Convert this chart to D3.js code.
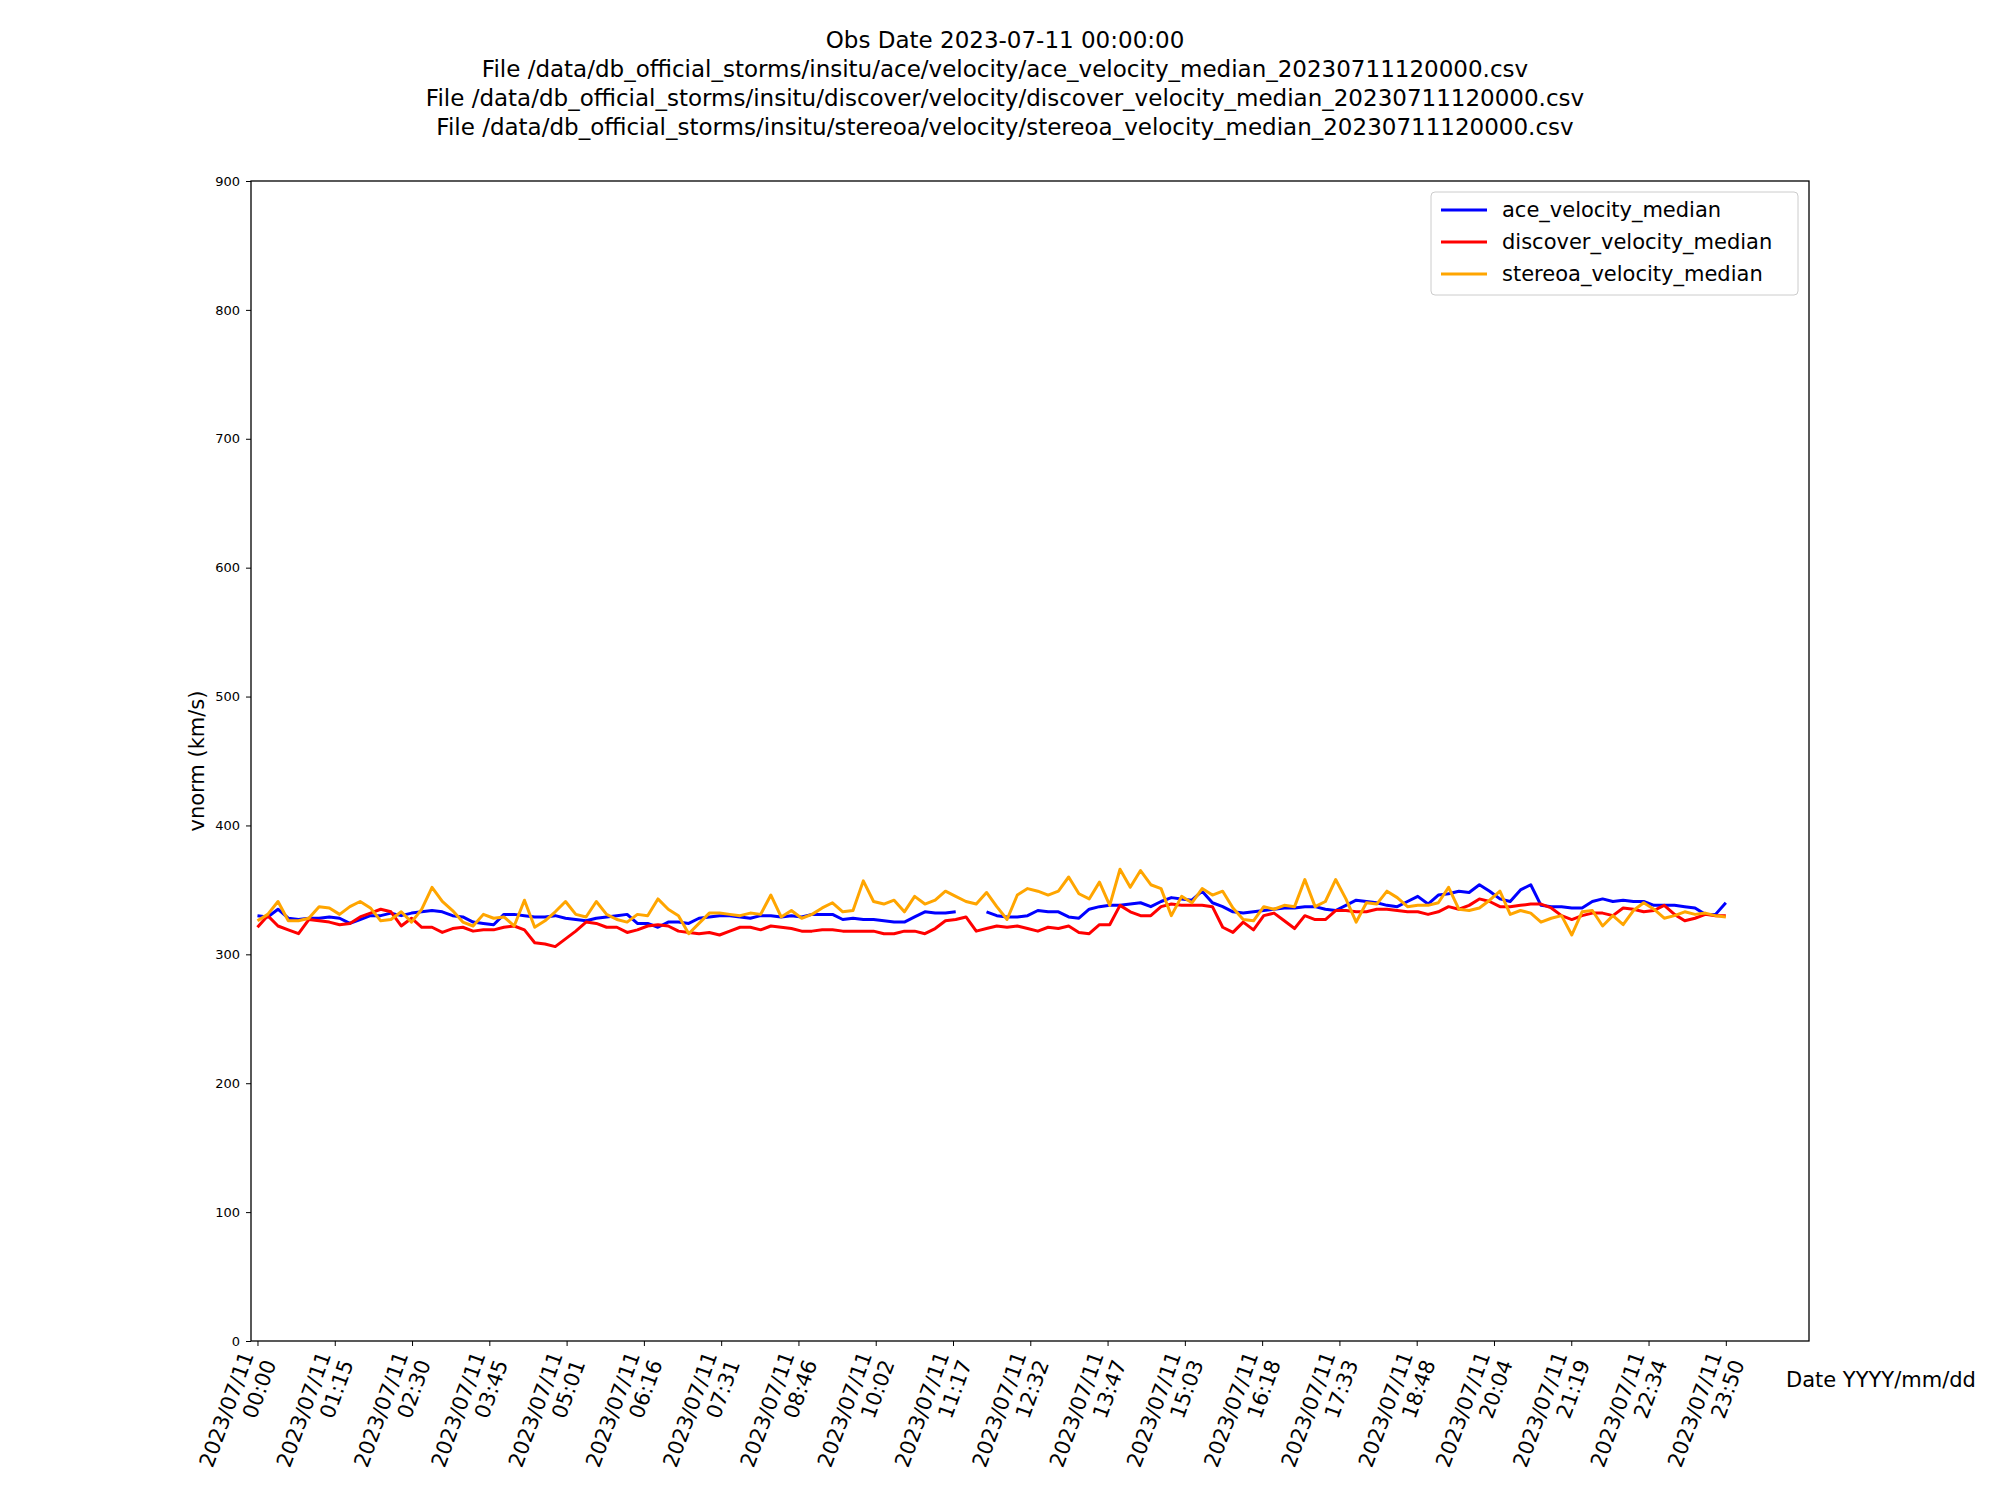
<!DOCTYPE html>
<html><head><meta charset="utf-8">
<script src="https://cdn.jsdelivr.net/npm/d3@7"></script>
<style>body{margin:0;background:#fff}text{font-family:"DejaVu Sans",sans-serif}</style>
</head><body><svg id="c" width="2000" height="1500"></svg>
<script>
// 10-minute samples, 12 per row (2 hours per row)
var aceVelocity = [
  330,329,335,328,327,328,328,329,328,324,327,330,
  330,332,330,332,333,334,333,330,329,325,324,323,
  331,331,330,329,329,330,328,327,326,328,329,330,
  331,324,324,321,325,325,324,328,329,330,330,329,
  328,330,330,329,330,329,331,331,331,327,328,327,
  327,326,325,325,329,333,332,332,333,null,null,333,
  330,329,329,330,334,333,333,329,328,335,337,338,
  338,339,340,337,341,344,343,342,349,340,337,333,
  332,333,334,335,336,336,337,337,335,334,338,342,
  341,340,338,337,341,345,339,346,347,349,348,354,
  349,343,341,350,354,338,337,337,336,336,341,343,
  341,342,341,341,338,338,338,337,336,331,331,340];
var discoverVelocity = [
  321,330,322,319,316,327,326,325,323,324,329,332,
  335,333,322,328,321,321,317,320,321,318,319,319,
  321,322,319,309,308,306,312,318,325,324,321,321,
  317,319,322,323,322,318,317,316,317,315,318,321,
  321,319,322,321,320,318,318,319,319,318,318,318,
  318,316,316,318,318,316,320,326,327,329,318,320,
  322,321,322,320,318,321,320,322,317,316,323,323,
  338,333,330,330,337,339,338,338,338,337,321,317,
  325,319,330,332,326,320,330,327,327,334,334,333,
  333,335,335,334,333,333,331,333,337,335,338,343,
  341,337,337,338,339,339,336,330,327,330,332,332,
  330,336,335,333,334,338,331,326,328,331,330,330];
var stereoaVelocity = [
  326,331,341,326,326,328,337,336,331,337,341,336,
  326,327,333,325,335,352,341,334,325,322,331,328,
  329,322,342,321,326,333,341,331,329,341,331,327,
  325,331,330,343,335,330,316,324,332,332,331,330,
  332,331,346,329,334,328,331,336,340,333,334,357,
  341,339,342,333,345,339,342,349,345,341,339,348,
  337,327,346,351,349,346,349,360,347,343,356,338,
  366,352,365,354,351,330,345,340,351,346,349,336,
  327,326,337,335,338,337,358,337,341,358,343,325,
  340,339,349,344,337,338,338,340,352,335,334,336,
  342,349,331,334,332,325,328,330,315,333,334,322,
  330,323,334,340,335,328,330,333,331,332,330,329];
var seriesNames = ["ace_velocity_median","discover_velocity_median","stereoa_velocity_median"];
var seriesColors = ["#0000ff","#ff0000","#ffa500"];
var yTicks = [0,100,200,300,400,500,600,700,800,900];
var titleLines = [
  "Obs Date 2023-07-11 00:00:00",
  "File /data/db_official_storms/insitu/ace/velocity/ace_velocity_median_20230711120000.csv",
  "File /data/db_official_storms/insitu/discover/velocity/discover_velocity_median_20230711120000.csv",
  "File /data/db_official_storms/insitu/stereoa/velocity/stereoa_velocity_median_20230711120000.csv"];

var svg = d3.select("#c");
var L = 251, R = 1809, T = 181, B = 1341;
var nPts = 144, lastMin = 1430;
var x = d3.scaleLinear().domain([-6.3, lastMin + 81]).range([L, R]);
var y = d3.scaleLinear().domain([0, 900]).range([B, T]);

svg.selectAll(".title").data(titleLines).enter().append("text")
  .attr("x", 1005).attr("y", function(d, i){ return 48 + i * 29; })
  .attr("text-anchor", "middle").attr("font-size", 23).text(function(d){ return d; });

// ticks: 20 evenly spaced over the day
var tickMins = d3.range(20).map(function(i){ return i * lastMin / 19; });
function fmt(m){ m = Math.floor(m + 1e-6); return d3.format("02")(Math.floor(m/60)) + ":" + d3.format("02")(m % 60); }

var yAxis = svg.append("g").attr("transform", "translate(" + L + ",0)")
  .call(d3.axisLeft(y).tickValues(yTicks).tickSize(5).tickPadding(6));
yAxis.selectAll("text").attr("font-size", 13).attr("font-family", "DejaVu Sans").attr("fill", "#000");
var xAxis = svg.append("g").attr("transform", "translate(0," + B + ")")
  .call(d3.axisBottom(x).tickValues(tickMins).tickSize(5).tickFormat(""));
[xAxis, yAxis].forEach(function(g){ g.select(".domain").remove(); g.selectAll("line").attr("stroke", "#000"); });

xAxis.selectAll(".tick").each(function(m){
  var t = d3.select(this).append("text").attr("transform", "translate(-4,14) rotate(-70)")
    .attr("text-anchor", "end").attr("fill", "#000").attr("font-size", 21);
  t.append("tspan").attr("x", 0).attr("dy", 0).text("2023/07/11");
  t.append("tspan").attr("x", 0).attr("dy", 24).text(fmt(m));
});

var line = d3.line().defined(function(d){ return d != null; })
  .x(function(d, i){ return x(i * 10); }).y(function(d){ return y(d); });
[aceVelocity, discoverVelocity, stereoaVelocity].forEach(function(s, k){
  svg.append("path").datum(s).attr("d", line).attr("fill", "none")
    .attr("stroke", seriesColors[k]).attr("stroke-width", 3).attr("stroke-linejoin", "round");
});

svg.append("rect").attr("x", L).attr("y", T).attr("width", R - L).attr("height", B - T)
  .attr("fill", "none").attr("stroke", "#000").attr("stroke-width", 1.3);

svg.append("text").attr("transform", "translate(204," + (T + B) / 2 + ") rotate(-90)")
  .attr("text-anchor", "middle").attr("font-size", 21).text("vnorm (km/s)");
svg.append("text").attr("x", 1786).attr("y", 1387).attr("font-size", 21).text("Date YYYY/mm/dd");

var lg = svg.append("g").attr("transform", "translate(1431,192)");
lg.append("rect").attr("width", 367).attr("height", 103).attr("rx", 4)
  .attr("fill", "#fff").attr("fill-opacity", 0.8).attr("stroke", "#ccc");
seriesNames.forEach(function(n, i){
  var yy = 18 + i * 32;
  lg.append("line").attr("x1", 10).attr("x2", 56).attr("y1", yy).attr("y2", yy)
    .attr("stroke", seriesColors[i]).attr("stroke-width", 3);
  lg.append("text").attr("x", 71).attr("y", yy + 7).attr("font-size", 21).text(n);
});
</script></body></html>
